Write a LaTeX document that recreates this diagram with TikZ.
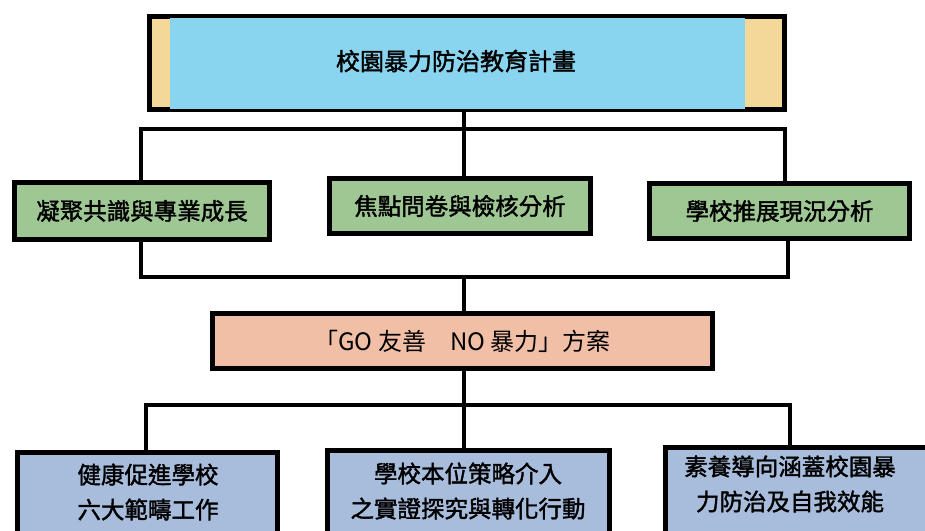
\documentclass[tikz,border=0pt]{standalone}
\usepackage{fontspec}
\newfontfamily\cjk{Noto Sans CJK TC}[FakeBold=1.6]
\newfontfamily\cjkr{Noto Sans CJK TC}
\definecolor{topblue}{HTML}{89D5EF}
\definecolor{beige}{HTML}{F4D899}
\definecolor{green}{HTML}{9FC794}
\definecolor{salmon}{HTML}{F0BFA6}
\definecolor{lblue}{HTML}{A8BCDC}
\begin{document}
\begin{tikzpicture}[x=1pt,y=-1pt,
  box/.style={draw=black,line width=5pt,inner sep=0pt},
  lbl/.style={font=\cjk\fontsize{23.5}{35}\selectfont,align=center,inner sep=0pt},
  conn/.style={draw=black,line width=4pt}]
\useasboundingbox (0,0) rectangle (925,530);
\clip (0,0) rectangle (925,530);
% top
\node[box,fill=beige,minimum width=635pt,minimum height=93pt] (top) at (467,63) {};
\fill[topblue] (170,18) rectangle (745,109);
\node[lbl,font=\cjk\fontsize{24}{26}\selectfont] (toptext) at (456,61) {校園暴力防治教育計畫};
% green
\node[box,fill=green,minimum width=255pt,minimum height=57pt,lbl] (g1) at (142,211) {凝聚共識與專業成長};
\node[box,fill=green,minimum width=261pt,minimum height=55pt,lbl] (g2) at (460,206) {焦點問卷與檢核分析};
\node[box,fill=green,minimum width=260pt,minimum height=55pt,lbl] (g3) at (779.5,211) {學校推展現況分析};
% salmon
\node[box,fill=salmon,minimum width=500pt,minimum height=55pt,lbl,font=\cjkr\fontsize{24}{30}\selectfont] (sal) at (462.5,341) {「GO 友善\hspace{1em}NO 暴力」方案};
% bottom
\node[box,fill=lblue,minimum width=260pt,minimum height=107pt] (b1) at (147.5,506) {};
\node[box,fill=lblue,minimum width=282pt,minimum height=110pt] (b2) at (468.5,505.5) {};
\node[box,fill=lblue,minimum width=270pt,minimum height=112.5pt] (b3) at (800,503.75) {};
\node[lbl] (t1) at (148,492) {健康促進學校\\六大範疇工作};
\node[lbl] (t2) at (468,491) {學校本位策略介入\\之實證探究與轉化行動};
\node[lbl] (t3) at (790,484) {素養導向涵蓋校園暴\\力防治及自我效能};
% connectors
\coordinate (j1) at (464,129);
\coordinate (j2) at (464,277);
\coordinate (j3) at (464,405);
\draw[conn] (top.south -| j1) -- (j1);
\draw[conn] ([xshift=-1pt]g1.north) |- (j1) -| ([xshift=5pt]g3.north);
\draw[conn] (j1) -- (j1 |- g2.north);
\draw[conn] ([xshift=-1pt]g1.south) |- (j2) -| ([xshift=8pt]g3.south);
\draw[conn] (j2) -- (j2 |- sal.north);
\draw[conn] (sal.south -| j3) -- (j3);
\draw[conn] ([xshift=-2pt]b1.north) |- (j3) -| ([xshift=-10pt]b3.north);
\draw[conn] (j3) -- (j3 |- b2.north);
\end{tikzpicture}
\end{document}
